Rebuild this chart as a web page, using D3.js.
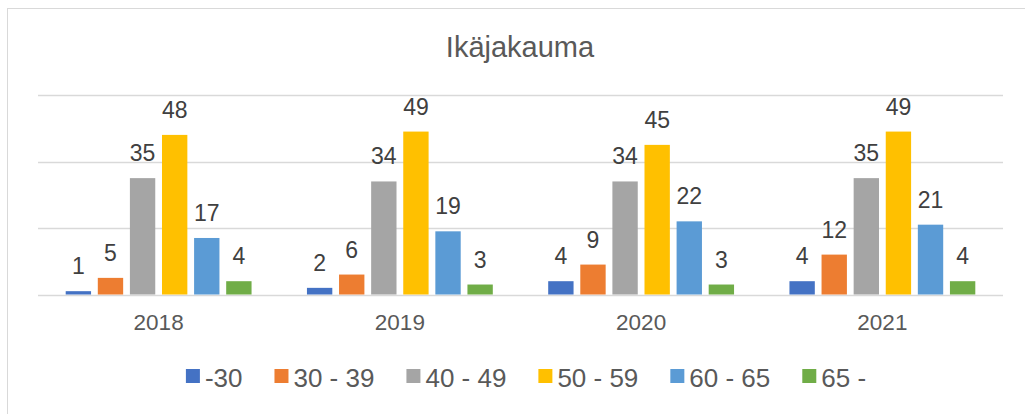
<!DOCTYPE html>
<html>
<head>
<meta charset="utf-8">
<script src="https://cdn.jsdelivr.net/npm/d3@7"></script>
<style>
  html, body { margin: 0; padding: 0; background: #fff; }
  svg { display: block; font-family: "Liberation Sans", Arial, sans-serif; }
</style>
</head>
<body>
<svg id="chart" width="1025" height="414"></svg>
<script>
// ─── DATA ─────────────────────────────────────────────────────────────
const years  = ['2018', '2019', '2020', '2021'];
const groups = ['-30', '30 - 39', '40 - 49', '50 - 59', '60 - 65', '65 -'];
const colors = ['#4472c4', '#ed7d31', '#a5a5a5', '#ffc000', '#5b9bd5', '#70ad47'];
const values = [
  [1, 5, 35, 48, 17, 4],   // 2018
  [2, 6, 34, 49, 19, 3],   // 2019
  [4, 9, 34, 45, 22, 3],   // 2020
  [4, 12, 35, 49, 21, 4],  // 2021
];
const gridTicks = [0, 20, 40, 60];
// ──────────────────────────────────────────────────────────────────────

const svg = d3.select('#chart');

// chart border
svg.append('rect')
  .attr('x', 7.5).attr('y', 8.5)
  .attr('width', 1040).attr('height', 420)
  .attr('fill', 'none').attr('stroke', '#d9d9d9');

svg.append('text')
  .attr('x', 520).attr('y', 57)
  .attr('text-anchor', 'middle')
  .attr('font-size', 29)
  .attr('fill', '#595959')
  .text('Ikäjakauma');

const plot = { left: 38, right: 1003, top: 95, bottom: 294.5 };

const x0 = d3.scaleBand().domain(years).range([plot.left, plot.right]);
const outer = 27.7;
const x1 = d3.scaleBand().domain(groups)
  .range([outer, x0.bandwidth() - outer])
  .paddingInner(0.21);
const y = d3.scaleLinear().domain([0, 60]).range([plot.bottom, plot.top]);

// gridlines
svg.append('g').selectAll('line')
  .data(gridTicks)
  .join('line')
  .attr('x1', plot.left).attr('x2', plot.right)
  .attr('y1', (d) => Math.round(y(d)) + 0.5)
  .attr('y2', (d) => Math.round(y(d)) + 0.5)
  .attr('stroke', '#d9d9d9')
  .attr('stroke-width', 1.5);

const yearG = svg.append('g').selectAll('g')
  .data(years)
  .join('g')
  .attr('transform', (d) => `translate(${x0(d)},0)`);

const cells = yearG.selectAll('g.cell')
  .data((d, i) => groups.map((g, j) => ({ year: d, group: g, value: values[i][j], c: colors[j] })))
  .join('g').attr('class', 'cell');

cells.append('rect')
  .attr('x', (d) => x1(d.group))
  .attr('width', x1.bandwidth())
  .attr('y', (d) => y(d.value))
  .attr('height', (d) => y(0) - y(d.value))
  .attr('fill', (d) => d.c);

cells.append('text')
  .attr('x', (d) => x1(d.group) + x1.bandwidth() / 2)
  .attr('y', (d) => y(d.value) - 17)
  .attr('text-anchor', 'middle')
  .attr('font-size', 23)
  .attr('fill', '#404040')
  .text((d) => d.value);

// category labels
svg.append('g').selectAll('text')
  .data(years)
  .join('text')
  .attr('x', (d) => x0(d) + x0.bandwidth() / 2)
  .attr('y', 329.5)
  .attr('text-anchor', 'middle')
  .attr('font-size', 22.5)
  .attr('fill', '#595959')
  .text((d) => d);

// legend
const legend = svg.append('g');
const items = legend.selectAll('g')
  .data(groups)
  .join('g');
items.append('rect')
  .attr('width', 14).attr('height', 14)
  .attr('y', 369)
  .attr('fill', (d, i) => colors[i]);
items.append('text')
  .attr('x', 19)
  .attr('y', 387)
  .attr('font-size', 26)
  .attr('fill', '#595959')
  .text((d) => d);

let pos = 0;
const offsets = [];
items.each(function () {
  offsets.push(pos);
  const w = d3.select(this).select('text').node().getComputedTextLength();
  pos += 19 + w + 32;
});
const total = pos - 32;
const start = 526 - total / 2;
items.attr('transform', (d, i) => `translate(${start + offsets[i]},0)`);
</script>
</body>
</html>
